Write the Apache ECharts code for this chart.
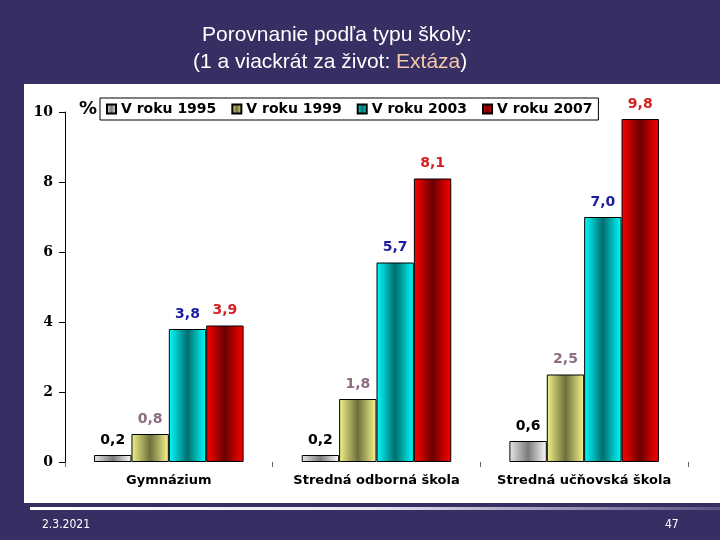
<!DOCTYPE html>
<html>
<head>
<meta charset="utf-8">
<script src="https://cdn.jsdelivr.net/npm/echarts@6/dist/echarts.min.js"></script>
<style>
    html, body { margin: 0; padding: 0; background: #372f63; }
    #chart { width: 720px; height: 540px; }
</style>
</head>
<body>
<div id="chart"></div>
<script>
    // data
    const categories = ['Gymnázium', 'Stredná odborná škola', 'Stredná učňovská škola'];
    const seriesNames = ['V roku 1995', 'V roku 1999', 'V roku 2003', 'V roku 2007'];
    const values1995 = [0.2, 0.2, 0.6];
    const values1999 = [0.8, 1.8, 2.5];
    const values2003 = [3.8, 5.7, 7.0];
    const values2007 = [3.9, 8.1, 9.8];
    const yTicks = [0, 2, 4, 6, 8, 10];

    const grad = (edgeL, mid, edgeR) => new echarts.graphic.LinearGradient(0, 0, 1, 0, [
        { offset: 0, color: edgeL },
        { offset: 0.5, color: mid },
        { offset: 1, color: edgeR }
    ]);

    const looks = [
        { fill: grad('#e8e8e8', '#7a7a7a', '#ffffff'), label: '#000000' },
        { fill: grad('#f4f488', '#6e6e3c', '#f8f890'), label: '#8c6c80' },
        { fill: grad('#00ffff', '#006e6e', '#00ffff'), label: '#1c1ca0' },
        { fill: grad('#ff0000', '#6a0000', '#ff0000'), label: '#d42020' }
    ];
    const allValues = [values1995, values1999, values2003, values2007];

    const chart = echarts.init(document.getElementById('chart'));

    const option = {
        backgroundColor: '#372f63',
        animation: false,
        title: [{
            text: 'Porovnanie podľa typu školy:',
            left: 197, top: 20,
            textStyle: { color: '#ffffff', fontSize: 21, fontWeight: 'normal', fontFamily: 'Liberation Sans' }
        }, {
            text: '{w|(1 a viackrát za život: }{p|Extáza}{w|)}',
            left: 188, top: 47,
            textStyle: {
                fontWeight: 'normal',
                rich: {
                    w: { color: '#ffffff', fontSize: 21, fontWeight: 'normal', fontFamily: 'Liberation Sans' },
                    p: { color: '#f6c8aa', fontSize: 21, fontWeight: 'normal', fontFamily: 'Liberation Sans' }
                }
            }
        }],
        graphic: [{
            type: 'rect', z: -10, silent: true,
            shape: { x: 24, y: 84, width: 696, height: 419 },
            style: { fill: '#ffffff' }
        }, {
            type: 'rect', z: -10, silent: true,
            shape: { x: 30, y: 507, width: 690, height: 3 },
            style: {
                fill: new echarts.graphic.LinearGradient(0, 0, 1, 0, [
                    { offset: 0, color: '#ffffff' },
                    { offset: 0.5, color: '#e8e6f2' },
                    { offset: 1, color: '#5a5384' }
                ])
            }
        }, {
            type: 'text', left: 79, top: 100,
            style: { text: '%', fill: '#000', font: 'bold 18px "DejaVu Sans"' }
        }, {
            type: 'text', left: 42, top: 519,
            style: { text: '2.3.2021', fill: '#ffffff', font: '12px "DejaVu Sans Condensed"' }
        }, {
            type: 'text', left: 665, top: 519,
            style: { text: '47', fill: '#ffffff', font: '12px "DejaVu Sans Condensed"' }
        }],
        legend: {
            left: 100, top: 98,
            data: seriesNames,
            icon: 'rect',
            itemWidth: 9,
            itemHeight: 9,
            itemGap: 15,
            padding: [4, 6, 4, 6],
            borderColor: '#000',
            borderWidth: 1,
            textStyle: { color: '#000', fontSize: 14, fontWeight: 'bold', fontFamily: 'DejaVu Sans' }
        },
        grid: { left: 65, right: 32, top: 112, bottom: 78, containLabel: false },
        xAxis: {
            type: 'category',
            data: categories,
            axisLine: { show: false },
            axisTick: { show: true, length: 5, lineStyle: { color: '#666' } },
            axisLabel: { interval: 0, color: '#000', fontSize: 13, fontWeight: 'bold', fontFamily: 'DejaVu Sans', margin: 12 }
        },
        yAxis: {
            type: 'value',
            min: yTicks[0],
            max: yTicks[yTicks.length - 1],
            interval: 2,
            axisLine: { show: true, lineStyle: { color: '#000', width: 1 } },
            axisTick: { show: true, length: 6, lineStyle: { color: '#000' } },
            splitLine: { show: false },
            axisLabel: { color: '#000', fontSize: 14, fontWeight: 'bold', fontFamily: 'DejaVu Serif', margin: 12 }
        },
        series: seriesNames.map((name, i) => ({
            name: name,
            type: 'bar',
            data: allValues[i],
            barGap: '0%',
            barCategoryGap: '28%',
            itemStyle: { color: looks[i].fill, borderColor: '#000', borderWidth: 1 },
            label: {
                show: true,
                position: 'top',
                distance: 8,
                color: looks[i].label,
                fontSize: 14,
                fontWeight: 'bold',
                fontFamily: 'DejaVu Sans',
                formatter: (p) => p.value.toFixed(1).replace('.', ',')
            }
        }))
    };

    chart.setOption(option);
</script>
</body>
</html>
